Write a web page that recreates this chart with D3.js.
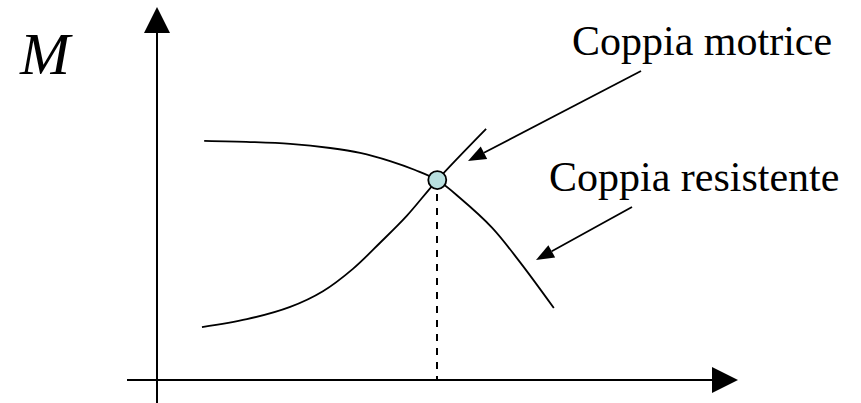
<!DOCTYPE html>
<html>
<head>
<meta charset="utf-8">
<script src="https://cdn.jsdelivr.net/npm/d3@7"></script>
<style>
  html, body { margin: 0; padding: 0; background: #fff; }
  svg { display: block; }
  text { font-family: "Liberation Serif", "Times New Roman", serif; fill: #000; }
</style>
</head>
<body>
<div id="chart"></div>
<script>
// Curve data (arbitrary units, 0-100 on both axes)
const resistenteX = [8.5, 16.8, 24.0, 31.2, 36.6, 42.0, 46.5, 50.5, 54.6, 60.4, 65.4, 71.5];
const resistenteY = [64.1, 63.8, 63.3, 62.2, 60.9, 58.7, 56.3, 53.6, 48.8, 40.8, 31.6, 19.3];

const motriceX = [8.1, 16.2, 24.0, 29.9, 35.3, 40.2, 45.0, 50.5, 59.3];
const motriceY = [14.2, 16.3, 19.6, 23.8, 29.8, 36.8, 44.0, 53.6, 67.3];

const equilibrium = [50.5, 53.6];

const labels = ["Coppia motrice", "Coppia resistente"];
const axisLabel = "M";

const width = 861;
const height = 403;

const svg = d3
  .select("#chart")
  .append("svg")
  .attr("width", width)
  .attr("height", height);

// Scales
const x = d3.scaleLinear().domain([0, 100]).range([157, 712]);
const y = d3.scaleLinear().domain([0, 100]).range([380, 7]);

// Axes with arrowheads
const axisG = svg.append("g");

axisG
  .append("line")
  .attr("x1", 127)
  .attr("x2", x(100))
  .attr("y1", y(0))
  .attr("y2", y(0))
  .attr("stroke", "#000")
  .attr("stroke-width", 2);

axisG
  .append("path")
  .attr("d", `M${x(100)},${y(0) - 13} L${x(100) + 26},${y(0)} L${x(100)},${y(0) + 13} Z`)
  .attr("fill", "#000");

axisG
  .append("line")
  .attr("x1", x(0))
  .attr("x2", x(0))
  .attr("y1", height)
  .attr("y2", y(100) + 26)
  .attr("stroke", "#000")
  .attr("stroke-width", 2);

axisG
  .append("path")
  .attr("d", `M${x(0) - 13},${y(100) + 26} L${x(0)},${y(100)} L${x(0) + 13},${y(100) + 26} Z`)
  .attr("fill", "#000");

svg
  .append("text")
  .attr("x", 20)
  .attr("y", 74)
  .attr("font-size", 60)
  .attr("font-style", "italic")
  .text(axisLabel);

// Curves
const line = d3
  .line()
  .x((d) => x(d[0]))
  .y((d) => y(d[1]))
  .curve(d3.curveCatmullRom.alpha(0.5));

const resistente = resistenteX.map((v, i) => [v, resistenteY[i]]);
const motrice = motriceX.map((v, i) => [v, motriceY[i]]);

[resistente, motrice].forEach((pts) => {
  svg
    .append("path")
    .datum(pts)
    .attr("d", line)
    .attr("fill", "none")
    .attr("stroke", "#000")
    .attr("stroke-width", 1.8);
});

// Dashed drop line
svg
  .append("line")
  .attr("x1", Math.round(x(equilibrium[0])))
  .attr("x2", Math.round(x(equilibrium[0])))
  .attr("y1", y(equilibrium[1]))
  .attr("y2", y(0))
  .attr("stroke", "#000")
  .attr("stroke-width", 2)
  .attr("stroke-dasharray", "7 7");

svg
  .append("circle")
  .attr("cx", x(equilibrium[0]))
  .attr("cy", y(equilibrium[1]))
  .attr("r", 9)
  .attr("fill", "#b9e0e0")
  .attr("stroke", "#000")
  .attr("stroke-width", 1.8);

// Labels with arrows
const annotations = [
  { text: labels[0], tx: 572, ty: 55, from: [641, 71], to: [468, 161] },
  { text: labels[1], tx: 549, ty: 191, from: [632, 207], to: [536, 260] },
];

annotations.forEach((a) => {
  svg
    .append("text")
    .attr("x", a.tx)
    .attr("y", a.ty)
    .attr("font-size", 42)
    .text(a.text);

  const ang = Math.atan2(a.to[1] - a.from[1], a.to[0] - a.from[0]);
  const len = 18;
  const half = 7;
  const bx = a.to[0] - len * Math.cos(ang);
  const by = a.to[1] - len * Math.sin(ang);

  svg
    .append("line")
    .attr("x1", a.from[0])
    .attr("y1", a.from[1])
    .attr("x2", bx)
    .attr("y2", by)
    .attr("stroke", "#000")
    .attr("stroke-width", 1.8);

  svg
    .append("path")
    .attr(
      "d",
      `M${a.to[0]},${a.to[1]} L${bx - half * Math.sin(ang)},${by + half * Math.cos(ang)} L${bx + half * Math.sin(ang)},${by - half * Math.cos(ang)} Z`,
    )
    .attr("fill", "#000");
});
</script>
</body>
</html>
